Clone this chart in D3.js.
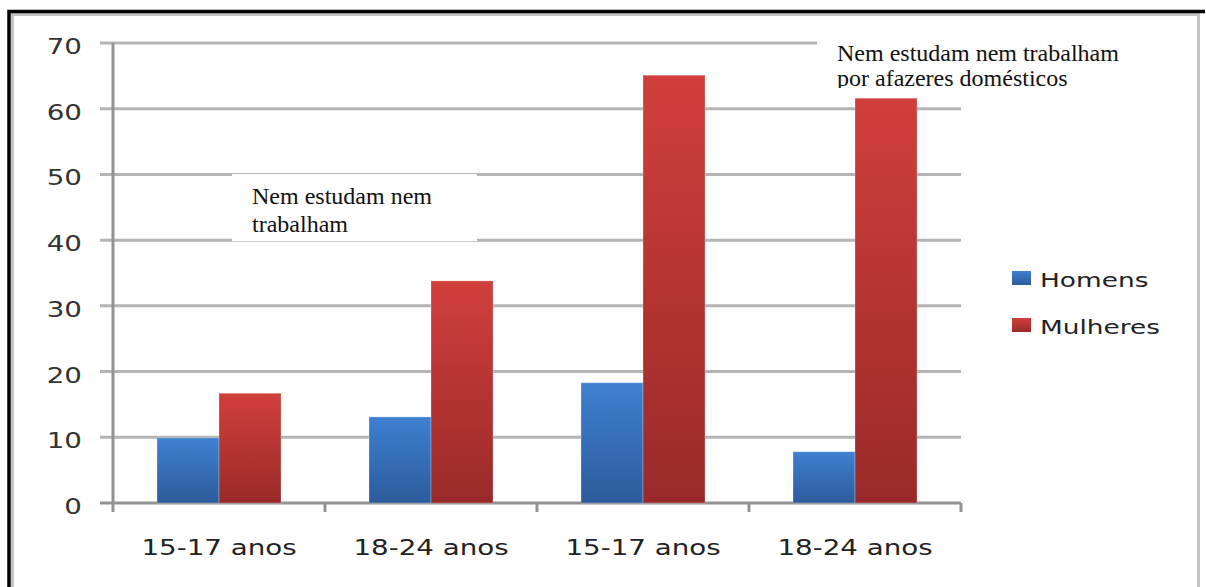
<!DOCTYPE html>
<html>
<head>
<meta charset="utf-8">
<script src="https://cdn.jsdelivr.net/npm/d3@7"></script>
<style>
  body { margin: 0; background: #fff; }
  svg { display: block; }
</style>
</head>
<body>
<svg width="1206" height="587"></svg>
<script>
const categories = ["15-17 anos", "18-24 anos", "15-17 anos", "18-24 anos"];
const series = ["Homens", "Mulheres"];
const homens = [9.9, 13.1, 18.3, 7.8];
const mulheres = [16.7, 33.8, 65.1, 61.6];
const yTicks = [0, 10, 20, 30, 40, 50, 60, 70];

const svg = d3.select("svg");
const width = +svg.attr("width");
const height = +svg.attr("height");

const plot = { left: 113, right: 961, top: 43, bottom: 503 };
const sx = 1.32; // the source picture is stretched sideways

const rows = categories.map((c, i) => ({ i, cat: c, values: [homens[i], mulheres[i]] }));

const x0 = d3.scaleBand().domain(d3.range(categories.length)).range([plot.left, plot.right]).padding(0);
const x1 = d3.scaleBand().domain(series).range([0, x0.bandwidth()]).paddingInner(0).paddingOuter(0.71);
const y = d3.scaleLinear().domain([0, 70]).range([plot.bottom, plot.top]);

const defs = svg.append("defs");
function grad(id, top, bottom) {
  const g = defs.append("linearGradient").attr("id", id)
    .attr("x1", 0).attr("y1", 0).attr("x2", 0).attr("y2", 1);
  g.append("stop").attr("offset", "0%").attr("stop-color", top);
  g.append("stop").attr("offset", "100%").attr("stop-color", bottom);
}
grad("gHomens", "#3e80d0", "#2c5b9b");
grad("gMulheres", "#d03f3c", "#992a29");
const fills = { Homens: "url(#gHomens)", Mulheres: "url(#gMulheres)" };

defs.append("clipPath").attr("id", "clipNote")
  .append("rect").attr("x", 800).attr("y", 20).attr("width", 380).attr("height", 68);

/* moldura */
svg.append("rect").attr("x", 12.5).attr("y", 14.5).attr("width", 1186).attr("height", 600)
  .attr("fill", "none").attr("stroke", "#c4c4c4").attr("stroke-width", 3);
svg.append("path").attr("d", `M 9 ${height} L 9 11.5 L 1205 11.5`)
  .attr("fill", "none").attr("stroke", "#000").attr("stroke-width", 3.5);

/* grade */
svg.append("g").selectAll("line")
  .data(yTicks)
  .enter().append("line")
  .attr("x1", 100).attr("x2", plot.right)
  .attr("y1", d => y(d)).attr("y2", d => y(d))
  .attr("stroke", d => d === 0 ? "#929292" : "#b4b4b4")
  .attr("stroke-width", 3);

/* rótulos y */
svg.append("g").selectAll("text")
  .data(yTicks)
  .enter().append("text")
  .attr("transform", d => `translate(82,${y(d) + 11}) scale(${sx},1)`)
  .attr("text-anchor", "end")
  .attr("font-family", "DejaVu Sans")
  .attr("font-size", 21)
  .attr("fill", "#333")
  .text(d => d);

/* eixos */
svg.append("line")
  .attr("x1", plot.left).attr("x2", plot.left)
  .attr("y1", y(70)).attr("y2", plot.bottom + 9)
  .attr("stroke", "#929292").attr("stroke-width", 3);
svg.append("g").selectAll("line")
  .data(d3.range(1, categories.length + 1))
  .enter().append("line")
  .attr("x1", d => x0(d - 1) + x0.step()).attr("x2", d => x0(d - 1) + x0.step())
  .attr("y1", plot.bottom).attr("y2", plot.bottom + 9)
  .attr("stroke", "#929292").attr("stroke-width", 3);

/* notas */
svg.append("rect").attr("x", 232).attr("y", 174).attr("width", 245).attr("height", 67).attr("fill", "#fff");
const note1 = svg.append("text").attr("font-family", "Liberation Serif").attr("font-size", 24).attr("fill", "#111");
note1.append("tspan").attr("x", 252).attr("y", 204).text("Nem estudam nem");
note1.append("tspan").attr("x", 252).attr("y", 232).text("trabalham");

svg.append("rect").attr("x", 817).attr("y", 25).attr("width", 345).attr("height", 63).attr("fill", "#fff");
const note2 = svg.append("text").attr("clip-path", "url(#clipNote)")
  .attr("font-family", "Liberation Serif").attr("font-size", 24).attr("fill", "#111");
note2.append("tspan").attr("x", 837).attr("y", 61).text("Nem estudam nem trabalham");
note2.append("tspan").attr("x", 837).attr("y", 86).text("por afazeres domésticos");

/* barras */
const groups = svg.selectAll(".grp")
  .data(rows)
  .enter().append("g")
  .attr("class", "grp")
  .attr("transform", d => `translate(${x0(d.i)},0)`);

groups.selectAll("rect")
  .data(d => series.map((s, k) => ({ key: s, value: d.values[k] })))
  .enter().append("rect")
  .attr("x", d => x1(d.key))
  .attr("y", d => y(d.value))
  .attr("width", x1.bandwidth())
  .attr("height", d => y(0) - y(d.value))
  .attr("fill", d => fills[d.key])
  .attr("stroke", "rgba(255,255,255,0.25)")
  .attr("stroke-width", 1);

/* rótulos x */
svg.append("g").selectAll("text")
  .data(rows)
  .enter().append("text")
  .attr("transform", d => `translate(${x0(d.i) + x0.bandwidth() / 2},555) scale(${sx},1)`)
  .attr("text-anchor", "middle")
  .attr("font-family", "DejaVu Sans")
  .attr("font-size", 21)
  .attr("fill", "#222")
  .text(d => d.cat);

/* legenda */
const legend = svg.append("g").selectAll("g")
  .data(series)
  .enter().append("g")
  .attr("transform", (d, i) => `translate(1012,${271 + i * 47})`);
legend.append("rect")
  .attr("width", 19).attr("height", 14)
  .attr("fill", d => fills[d]);
legend.append("text")
  .attr("transform", `translate(28,16) scale(${sx},1)`)
  .attr("font-family", "DejaVu Sans")
  .attr("font-size", 20)
  .attr("fill", "#222")
  .text(d => d);
</script>
</body>
</html>
